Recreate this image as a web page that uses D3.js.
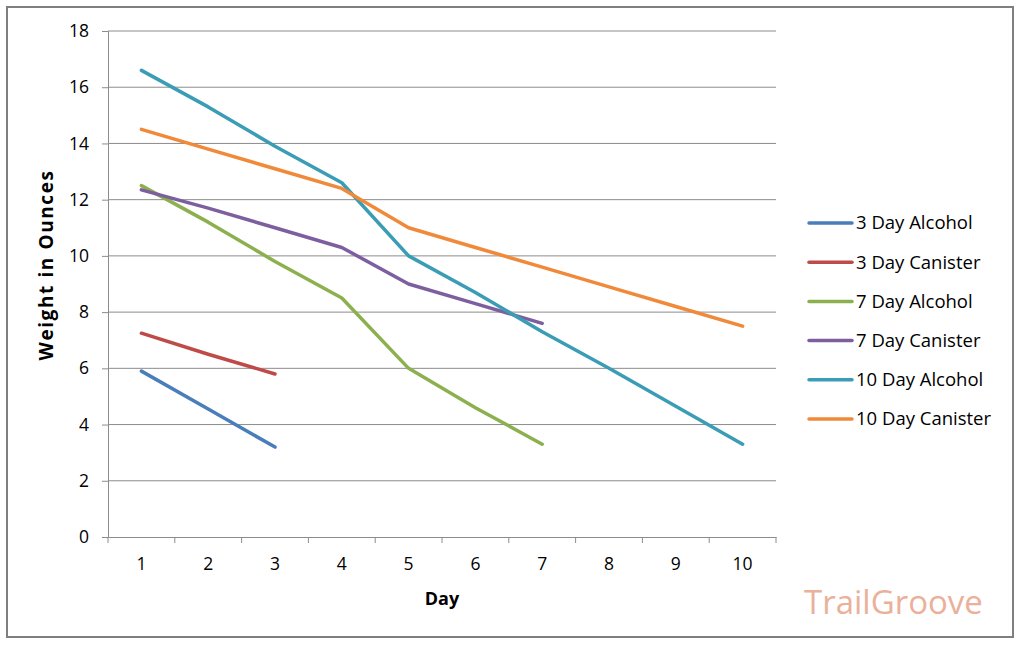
<!DOCTYPE html>
<html>
<head>
<meta charset="utf-8">
<script src="https://cdn.jsdelivr.net/npm/d3@7"></script>
<style>
  body { margin: 0; background: #fff; }
  svg { font-family: "Open Sans", sans-serif; }
</style>
</head>
<body>
<div id="root"></div>
<script>
const days = [1, 2, 3, 4, 5, 6, 7, 8, 9, 10]
const yTicks = [0, 2, 4, 6, 8, 10, 12, 14, 16, 18]

const seriesNames = ['3 Day Alcohol', '3 Day Canister', '7 Day Alcohol', '7 Day Canister', '10 Day Alcohol', '10 Day Canister']
const seriesColors = ['#4A7EBB', '#BE4B48', '#8DB04F', '#7D5FA0', '#3A9DB5', '#F08A3A']

const alcohol3 = [5.9, 4.55, 3.2]
const canister3 = [7.25, 6.5, 5.8]
const alcohol7 = [12.5, 11.2, 9.8, 8.5, 6.0, 4.6, 3.3]
const canister7 = [12.35, 11.7, 11.0, 10.3, 9.0, 8.3, 7.6]
const alcohol10 = [16.6, 15.3, 13.9, 12.6, 10.0, 8.7, 7.3, 6.0, 4.65, 3.3]
const canister10 = [14.5, 13.8, 13.1, 12.4, 11.0, 10.3, 9.6, 8.9, 8.2, 7.5]

const seriesValues = [alcohol3, canister3, alcohol7, canister7, alcohol10, canister10]

const width = 1024
const height = 646
const plot = { left: 108, right: 776, top: 31, bottom: 537 }

const svg = d3.select('#root').append('svg')
  .attr('width', width)
  .attr('height', height)

// outer frame
svg.append('rect')
  .attr('x', 7).attr('y', 7)
  .attr('width', 1006).attr('height', 630)
  .attr('fill', 'none')
  .attr('stroke', '#7f7f7f')
  .attr('stroke-width', 2)

const x = d3.scaleBand().domain(days).range([plot.left, plot.right])
const y = d3.scaleLinear().domain([0, 18]).range([plot.bottom, plot.top])

// gridlines
svg.append('g')
  .selectAll('line')
  .data(yTicks.filter(d => d > 0))
  .enter()
  .append('line')
  .attr('x1', plot.left).attr('x2', plot.right)
  .attr('y1', d => y(d)).attr('y2', d => y(d))
  .attr('stroke', '#8c8c8c')
  .attr('stroke-width', 1)

// y axis
const yAxis = svg.append('g')
  .attr('transform', 'translate(' + plot.left + ',0)')
  .call(d3.axisLeft(y).tickValues(yTicks).tickSize(6).tickPadding(13))
yAxis.selectAll('path, line').attr('stroke', '#8c8c8c')
yAxis.selectAll('text').attr('font-size', 17.5).attr('fill', '#000').attr('font-family', '"Open Sans", sans-serif')

// x axis with ticks at category boundaries
const xAxis = svg.append('g')
  .attr('transform', 'translate(0,' + plot.bottom + ')')
  .call(d3.axisBottom(x).tickSize(0).tickPadding(21))
xAxis.select('path').attr('stroke', '#8c8c8c')
xAxis.selectAll('text').attr('font-size', 17.5).attr('fill', '#000').attr('font-family', '"Open Sans", sans-serif')
xAxis.selectAll('line.bound')
  .data(days.concat([11]))
  .enter()
  .append('line')
  .attr('class', 'bound')
  .attr('x1', (d, i) => plot.left + i * x.step())
  .attr('x2', (d, i) => plot.left + i * x.step())
  .attr('y1', 0).attr('y2', 6)
  .attr('stroke', '#8c8c8c')

// axis titles
svg.append('text')
  .attr('transform', 'translate(53,265) rotate(-90)')
  .attr('text-anchor', 'middle')
  .attr('font-size', 19)
  .attr('letter-spacing', 1.6)
  .attr('font-weight', 'bold')
  .text('Weight in Ounces')

svg.append('text')
  .attr('x', 442).attr('y', 605)
  .attr('text-anchor', 'middle')
  .attr('font-size', 18)
  .attr('font-weight', 'bold')
  .text('Day')

// series lines
const line = d3.line()
  .x((d, i) => x(days[i]) + x.bandwidth() / 2)
  .y(d => y(d))

svg.append('g')
  .selectAll('path')
  .data(seriesValues)
  .enter()
  .append('path')
  .attr('d', d => line(d))
  .attr('fill', 'none')
  .attr('stroke', (d, i) => seriesColors[i])
  .attr('stroke-width', 3.5)
  .attr('stroke-linecap', 'round')
  .attr('stroke-linejoin', 'round')

// legend
const legend = svg.append('g')
  .selectAll('g')
  .data(seriesNames)
  .enter()
  .append('g')
  .attr('transform', (d, i) => 'translate(809,' + (223 + i * 39.2) + ')')

legend.append('line')
  .attr('x1', 0).attr('x2', 43)
  .attr('stroke', (d, i) => seriesColors[i])
  .attr('stroke-width', 3.5)
  .attr('stroke-linecap', 'round')

legend.append('text')
  .attr('x', 47).attr('dy', '0.35em')
  .attr('font-size', 18.5)
  .text(d => d)

// watermark
svg.append('text')
  .attr('x', 804).attr('y', 614)
  .attr('font-size', 33)
  .attr('fill', '#EBB09A')
  .attr('font-family', '"Open Sans", sans-serif')
  .text('TrailGroove')
</script>
</body>
</html>
